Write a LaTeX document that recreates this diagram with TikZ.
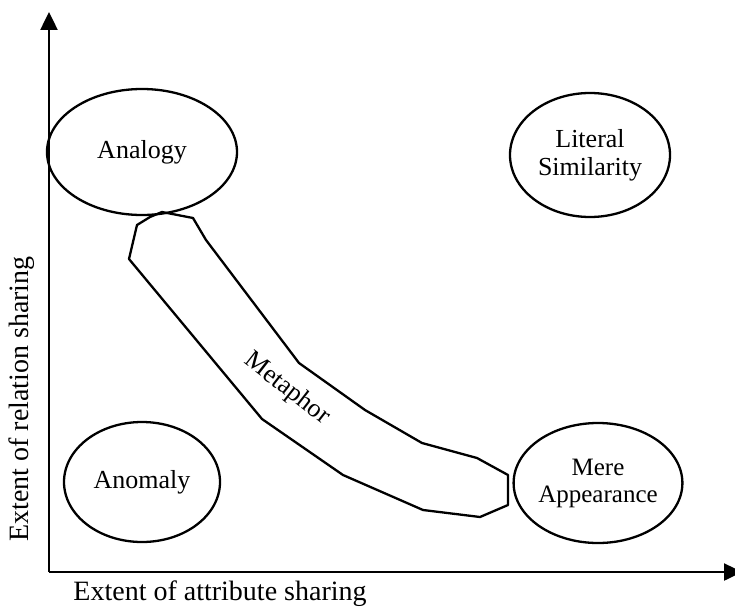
\documentclass[tikz,border=0pt]{standalone}
\usepackage{fontspec}
\setmainfont{Liberation Serif}
\usetikzlibrary{shapes.geometric,arrows.meta}

\begin{document}
\begin{tikzpicture}[x=1pt,y=-1pt,
   blob/.style={ellipse,draw,line width=2.3pt,align=center,
                font=\fontsize{26}{28}\selectfont,inner sep=0pt},
   axis/.style={line width=2.5pt,-{Triangle[length=18pt,width=17pt]}},
   axislabel/.style={font=\fontsize{28}{32}\selectfont}]
   \useasboundingbox (0,0) rectangle (735,610);
   \coordinate (origin) at (49,572);
   \coordinate (ytop) at (49,12);
   \coordinate (xend) at (742,572);
   \draw[axis] (origin) -- (ytop);
   \draw[axis] (origin) -- (xend);
   \node[axislabel] (xlab) at (220,594) {Extent of attribute sharing};
   \node[axislabel,rotate=90] (ylab) at (22,399) {Extent of relation sharing};
   % the four corners
   \node[blob,minimum width=190,minimum height=126] (analogy) at (142,152) {Analogy};
   \node[blob,minimum width=160,minimum height=124] (literal) at (590,155) {Literal\\Similarity};
   \node[blob,minimum width=156,minimum height=120] (anomaly) at (142,482) {Anomaly};
   \node[blob,minimum width=166,minimum height=120,
         font=\fontsize{25}{27}\selectfont] (mere) at (598,483) {Mere\\Appearance};
   % metaphor band
   \draw[line width=2.3pt,line join=round]
      (150,217) -- (162,212) -- (193,218) -- (206,240) -- (299,363)
      -- (365,410) -- (422,443) -- (477,458) -- (508,475) -- (508,505)
      -- (480,517) -- (423,510) -- (343,475) -- (262,419) -- (129,259)
      -- (137,225) -- cycle;
   \node[font=\fontsize{26}{28}\selectfont,rotate=-38] (metaphor) at (287,389) {Metaphor};
\end{tikzpicture}
\end{document}
